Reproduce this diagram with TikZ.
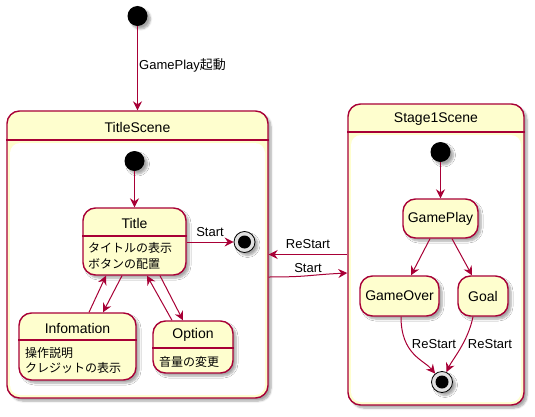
\documentclass[tikz,border=0pt]{standalone}
\usepackage{fontspec}
\setmainfont{Liberation Sans}
\newfontfamily\jp{Noto Sans CJK JP}
\usetikzlibrary{arrows.meta,shadows.blur}
\definecolor{cream}{HTML}{FEFECE}
\definecolor{umlred}{HTML}{A80036}
\tikzset{
  shad/.style={blur shadow={shadow xshift=3pt,shadow yshift=-3pt,shadow blur steps=6,shadow blur radius=2pt,shadow opacity=35}},
  statebox/.style={draw=umlred,fill=cream,line width=1.4pt,rounded corners=12.5pt,inner sep=0pt,shad},
  sep/.style={draw=umlred,line width=1.2pt},
  initdot/.style={circle,fill=black,minimum size=20pt,inner sep=0pt,shad},
  finaldot/.style={circle,draw=black,line width=0.8pt,fill=black!12,minimum size=21pt,inner sep=0pt,shad},
  arr/.style={draw=umlred,line width=1pt,-{Stealth[length=9pt,width=9pt,inset=3pt]}},
  lbl/.style={font=\fontsize{13}{15}\selectfont,inner sep=0pt},
  sname/.style={font=\fontsize{14}{16}\selectfont,inner sep=0pt},
  body/.style={font=\fontsize{12}{16}\jp,align=left,inner sep=0pt,anchor=west},
}
\begin{document}
\begin{tikzpicture}[x=1pt,y=-1pt]
\useasboundingbox (0,0) rectangle (535,417);

% ---------- TitleScene composite ----------
\node[statebox,minimum width=261pt,minimum height=287pt] (ts) at (137.5,254.5) {};
\fill[white,rounded corners=10pt] (10,143) rectangle (265,395);
\coordinate (tsh) at (0,140);
\draw[sep] (ts.west |- tsh) -- (ts.east |- tsh);
\node[sname] (tsname) at (137.5,127) {TitleScene};

% ---------- Stage1Scene composite ----------
\node[statebox,minimum width=176pt,minimum height=301pt] (s1) at (436,254.5) {};
\fill[white,rounded corners=10pt] (351,135) rectangle (521,402);
\coordinate (s1h) at (0,132);
\draw[sep] (s1.west |- s1h) -- (s1.east |- s1h);
\node[sname] (s1name) at (436,119) {Stage1Scene};

% ---------- top initial ----------
\node[initdot] (i0) at (137.5,16) {};
\draw[arr] (i0) -- (ts.north);
\node[lbl,anchor=west] (l0) at (139,65) {GamePlay{\jp 起動}};

% ---------- inside TitleScene ----------
\node[initdot] (i1) at (134.5,161) {};
\node[statebox,minimum width=103pt,minimum height=67pt] (title) at (134.5,241.5) {};
\coordinate (th) at (0,236);
\draw[sep] (title.west |- th) -- (title.east |- th);
\node[sname] (titlename) at (134.5,223) {Title};
\node[body] (titlebody) at (88,256) {タイトルの表示\\ボタンの配置};

\node[statebox,minimum width=117pt,minimum height=67pt] (info) at (77.5,346.5) {};
\coordinate (ih) at (0,340);
\draw[sep] (info.west |- ih) -- (info.east |- ih);
\node[sname] (infoname) at (77.5,328) {Infomation};
\node[body,font=\fontsize{12}{15.5}\jp] (infobody) at (25,360.5) {操作説明\\クレジットの表示};

\node[statebox,minimum width=80pt,minimum height=52pt] (opt) at (193,347) {};
\coordinate (oh) at (0,348);
\draw[sep] (opt.west |- oh) -- (opt.east |- oh);
\node[sname] (optname) at (193,335) {Option};
\node[body] (optbody) at (159,362) {音量の変更};

\node[finaldot] (f1) at (244.5,242) {};
\fill[black] (f1) circle (6.5pt);

\draw[arr] (i1) -- (title.north);
\draw[arr] (title.east |- f1) -- (f1);
\node[lbl] (lstart1) at (210,232) {Start};
\draw[arr] ([xshift=11.5pt]info.north) -- ([xshift=-28.5pt]title.south);
\draw[arr] ([xshift=-12.5pt]title.south) -- ([xshift=25.5pt]info.north);
\draw[arr] ([xshift=25.5pt]title.south) -- ([xshift=-10pt]opt.north);
\draw[arr] ([xshift=-21pt]opt.north) -- ([xshift=12.5pt]title.south);

% ---------- inside Stage1Scene ----------
\node[initdot] (i2) at (440.5,152) {};
\node[statebox,minimum width=75pt,minimum height=39pt,sname] (gp) at (440.5,218.5) {GamePlay};
\node[statebox,minimum width=79pt,minimum height=40pt,sname] (go) at (399.5,296) {GameOver};
\node[statebox,minimum width=50pt,minimum height=40pt,sname] (goal) at (483,296) {Goal};
\node[finaldot] (f2) at (442,382) {};
\fill[black] (f2) circle (6.5pt);

\draw[arr] (i2) -- (gp.north);
\draw[arr] ([xshift=-10.5pt]gp.south) -- ([xshift=11.5pt]go.north);
\draw[arr] ([xshift=11.5pt]gp.south) -- ([xshift=-11pt]goal.north);
\draw[arr] ([xshift=1.5pt]go.south) .. controls +(0,38) and +(-18,-22) .. (f2);
\draw[arr] ([xshift=-10pt]goal.south) .. controls +(-5,25) and +(10,-22) .. (f2);
\node[lbl] (lr2) at (434,344) {ReStart};
\node[lbl] (lr3) at (490,344) {ReStart};

% ---------- between scenes ----------
\draw[arr] (s1.west) -- (s1.west -| ts.east);
\node[lbl] (lr1) at (308,244) {ReStart};
\draw[arr] ([yshift=-22.5pt]ts.east) .. controls +(40,0) and +(-40,2) .. ([yshift=-18.5pt]s1.west);
\node[lbl] (lstart2) at (308,268) {Start};
\end{tikzpicture}
\end{document}
